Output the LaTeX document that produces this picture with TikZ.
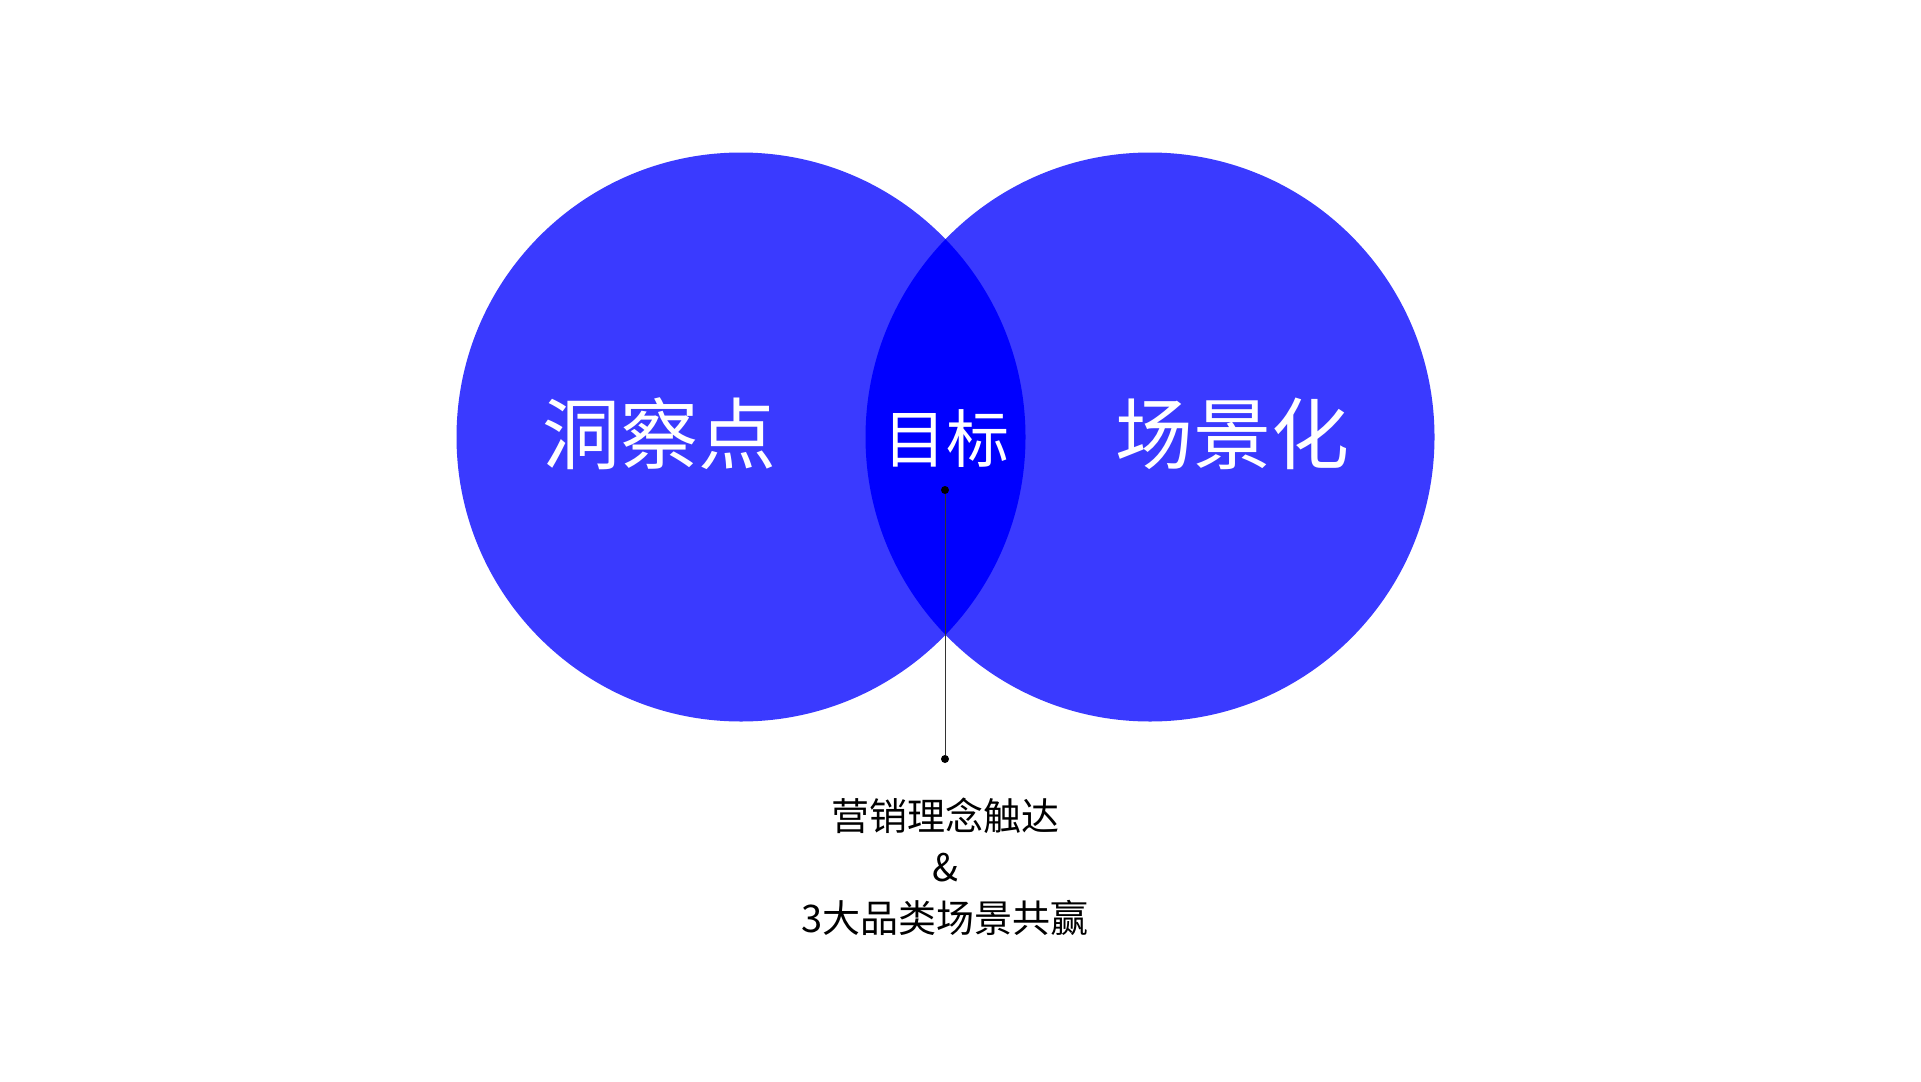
\documentclass[tikz,border=0pt]{standalone}
\usepackage{fontspec}
\setmainfont{Noto Sans CJK SC}
\usepackage{xcolor}
\usetikzlibrary{positioning, calc}

\definecolor{vennblue}{RGB}{58,58,255}
\definecolor{lensblue}{RGB}{0,0,255}

\begin{document}
\begin{tikzpicture}[
    x=1pt, y=-1pt,
    circ/.style={circle, fill=vennblue, minimum size=569pt, inner sep=0pt},
    biglabel/.style={text=white, font=\fontsize{78}{88}\selectfont},
    goallabel/.style={text=white, font=\fontsize{63}{70}\selectfont},
    note/.style={align=center, font=\fontsize{38}{51}\selectfont},
    dot/.style={circle, fill=black, minimum size=8pt, inner sep=0pt},
    link/.style={draw=black!80, line width=1pt}
]
\useasboundingbox (0,0) rectangle (1921,1081);

\node[circ] (insight) at (741,437) {};
\node[circ] (scene) at (1150,437) {};

% overlap of the two circles
\begin{scope}
    \clip (insight.center) circle[radius=284.5pt];
    \fill[lensblue] (scene.center) circle[radius=284.5pt];
\end{scope}

\node[biglabel] (insighttext) at (659,434) {洞察点};
\node[biglabel] (scenetext) at (1232,434) {场景化};
\node[goallabel] (goal) at (946,439) {目标};

\node[dot] (top) at (945,490) {};
\node[dot] (bottom) at (945,759) {};
\draw[link] (top) -- (bottom);

\node[note, below=31pt of bottom] (summary) {营销理念触达\\\&\\3大品类场景共赢};

\end{tikzpicture}
\end{document}
